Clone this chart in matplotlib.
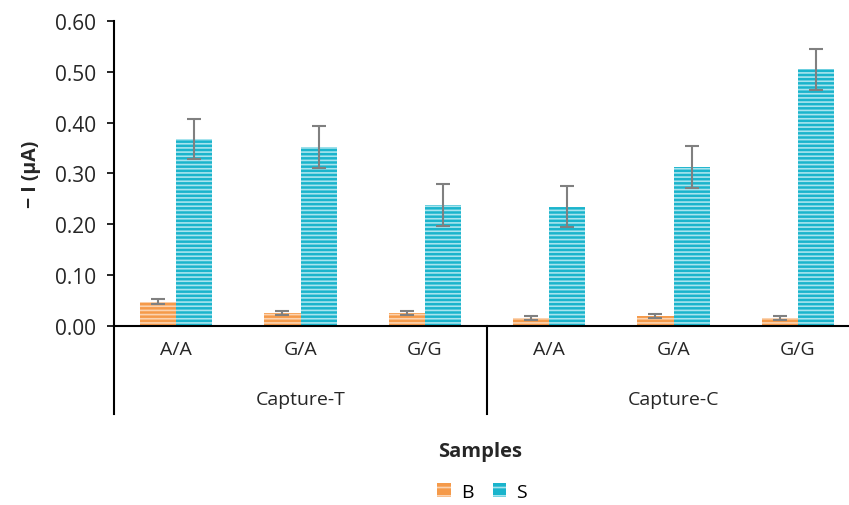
import numpy as np
import matplotlib.pyplot as plt
from matplotlib.patches import Patch

plt.rcParams['font.family'] = ['Open Sans', 'DejaVu Sans']
plt.rcParams['hatch.linewidth'] = 1.2

# data
groups = ['Capture-T', 'Capture-C']
genotypes = ['A/A', 'G/A', 'G/G', 'A/A', 'G/A', 'G/G']
b_vals = [0.048, 0.025, 0.025, 0.016, 0.019, 0.016]
b_err = [0.005, 0.004, 0.004, 0.004, 0.004, 0.004]
s_vals = [0.368, 0.352, 0.238, 0.235, 0.313, 0.505]
s_err = [0.040, 0.041, 0.042, 0.041, 0.041, 0.040]

orange = '#F59A4A'
blue = '#1AB4CC'
txt = '#262626'
fs = 14

fig = plt.figure(figsize=(8.49, 5.06), dpi=100)
ax = fig.add_axes([114/849, 179/506, 746/849, 305/506])

x = np.arange(len(genotypes))
w = 0.29
ax.bar(x - w/2, b_vals, w, color=orange, edgecolor='#FBD3B0', linewidth=0, hatch='----')
ax.bar(x + w/2, s_vals, w, color=blue, edgecolor='#A8E4EE', linewidth=0, hatch='----')
ax.errorbar(x - w/2, b_vals, yerr=b_err, fmt='none', ecolor='#808080', elinewidth=1.5, capsize=5, capthick=1.5)
ax.errorbar(x + w/2, s_vals, yerr=s_err, fmt='none', ecolor='#808080', elinewidth=1.5, capsize=5, capthick=1.5)

ax.set_xlim(-0.5, 5.5)
ax.set_ylim(0, 0.6)
ax.set_yticks(np.arange(0, 0.61, 0.1))
ax.set_yticklabels(['%.2f' % v for v in np.arange(0, 0.61, 0.1)], fontsize=15, color=txt)
ax.tick_params(axis='y', direction='out', length=5, width=1.2, pad=8)
ax.set_xticks([])
for side in ['top', 'right']:
    ax.spines[side].set_visible(False)
ax.spines['left'].set_linewidth(1.5)
ax.spines['bottom'].set_linewidth(1.5)
ax.set_ylabel('− I (μA)', fontsize=fs, fontweight='bold', color=txt, labelpad=10)

# two-level category axis
trans = ax.get_xaxis_transform()
for xs in [-0.5, 2.5, 5.5]:
    ax.plot([xs, xs], [0, -0.29], transform=trans, color='black', lw=1.5, clip_on=False)
for i, g in enumerate(genotypes):
    ax.text(i, -0.075, g, transform=trans, ha='center', va='center', fontsize=fs, color=txt)
for j, g in enumerate(groups):
    ax.text(1 + 3*j, -0.24, g, transform=trans, ha='center', va='center', fontsize=fs, color=txt)

fig.text(480/849, 1 - 452/506, 'Samples', ha='center', va='center', fontsize=14.5, fontweight='bold', color=txt)

handles = [Patch(facecolor=orange, edgecolor='#FBD3B0', hatch='--', lw=0),
           Patch(facecolor=blue, edgecolor='#A8E4EE', hatch='--', lw=0)]
fig.legend(handles, ['B', 'S'], loc='center', bbox_to_anchor=(482/849, 1 - 493/506), ncol=2,
           frameon=False, fontsize=fs, handlelength=0.7, handleheight=0.7, handletextpad=0.5,
           columnspacing=1.0)

fig.savefig('out.png', dpi=100)
